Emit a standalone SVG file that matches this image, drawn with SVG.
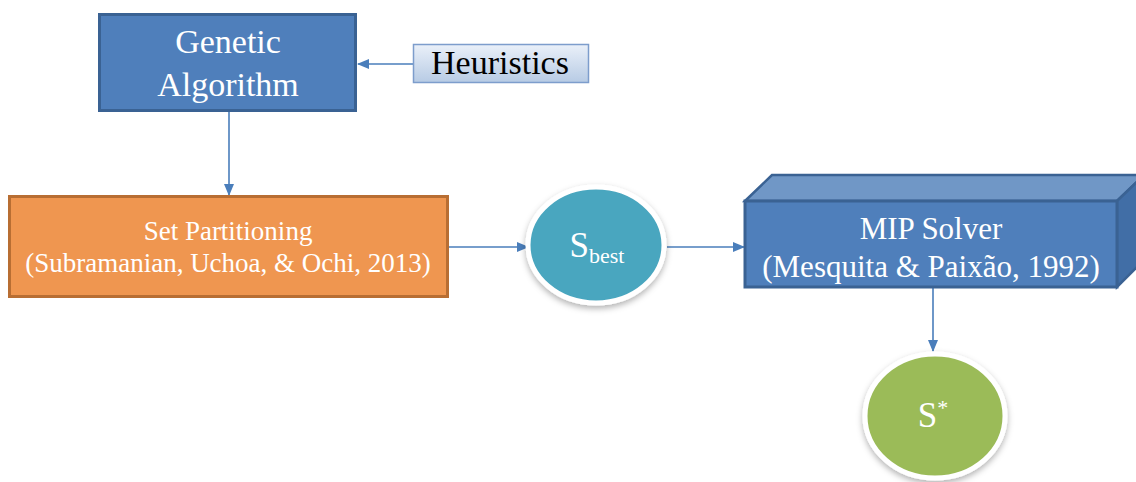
<svg xmlns="http://www.w3.org/2000/svg" width="1136" height="482" viewBox="0 0 1136 482">
<defs>
<linearGradient id="hg" x1="0" y1="0" x2="0" y2="1">
<stop offset="0" stop-color="#eaf0f9"/>
<stop offset="1" stop-color="#b7cbe4"/>
</linearGradient>
<filter id="sh" x="-20%" y="-20%" width="140%" height="150%">
<feDropShadow dx="0" dy="3" stdDeviation="3" flood-color="#000" flood-opacity="0.3"/>
</filter>
<marker id="ah" markerWidth="12" markerHeight="12" refX="11" refY="6" orient="auto" markerUnits="userSpaceOnUse">
<path d="M0,1 L12,6 L0,11 Z" fill="#4a7ebb"/>
</marker>
<style>
text{font-family:"Liberation Serif","Times New Roman",serif;text-anchor:middle}
.w{fill:#ffffff}
.conn{stroke:#4a7ebb;stroke-width:1.6;fill:none;marker-end:url(#ah)}
</style>
</defs>
<g id="connectors">
<line class="conn" x1="413" y1="64" x2="358" y2="64"/>
<line class="conn" x1="229" y1="112" x2="229" y2="195"/>
<line class="conn" x1="449" y1="247" x2="528" y2="247"/>
<line class="conn" x1="667" y1="247" x2="744" y2="247"/>
<line class="conn" x1="933" y1="288" x2="933" y2="351"/>
</g>
<g id="genetic-algorithm">
<rect x="99.5" y="14.5" width="256" height="96" fill="#4f7fbb" stroke="#3a6293" stroke-width="3"/>
<text class="w" x="228" y="53" font-size="34">Genetic</text>
<text class="w" x="228" y="96" font-size="34">Algorithm</text>
</g>
<g id="heuristics">
<rect x="413.5" y="44.5" width="175" height="38" fill="url(#hg)" stroke="#7d9dcc" stroke-width="1.5"/>
<text x="500" y="74" font-size="34" fill="#000">Heuristics</text>
</g>
<g id="set-partitioning">
<rect x="9.5" y="196.5" width="438" height="100" fill="#ef9650" stroke="#b86e33" stroke-width="3"/>
<text class="w" x="228" y="240" font-size="27">Set Partitioning</text>
<text class="w" x="228" y="272" font-size="27">(Subramanian, Uchoa, &amp; Ochi, 2013)</text>
</g>
<g id="s-best">
<ellipse cx="596" cy="245" rx="68" ry="58" fill="#4aa6bf" stroke="#ffffff" stroke-width="5" filter="url(#sh)"/>
<text class="w" x="597" y="257" font-size="35"><tspan>S</tspan><tspan font-size="22" dy="6">best</tspan></text>
</g>
<g id="mip-solver">
<polygon points="745,201 772,175 1144,175 1117,201" fill="#7097c6" stroke="#3a6293" stroke-width="2.5"/>
<polygon points="1117,201 1144,175 1144,260 1117,287" fill="#416ea6" stroke="#3a6293" stroke-width="2.5"/>
<rect x="745" y="201" width="372" height="86" fill="#4f7fbb" stroke="#3a6293" stroke-width="3"/>
<text class="w" x="931" y="239" font-size="31">MIP Solver</text>
<text class="w" x="931" y="277" font-size="31">(Mesquita &amp; Paixão, 1992)</text>
</g>
<g id="s-star">
<ellipse cx="935" cy="416" rx="70" ry="62" fill="#9bbb59" stroke="#ffffff" stroke-width="5" filter="url(#sh)"/>
<text class="w" x="933" y="427" font-size="35"><tspan>S</tspan><tspan font-size="22" dy="-12">*</tspan></text>
</g>
</svg>
